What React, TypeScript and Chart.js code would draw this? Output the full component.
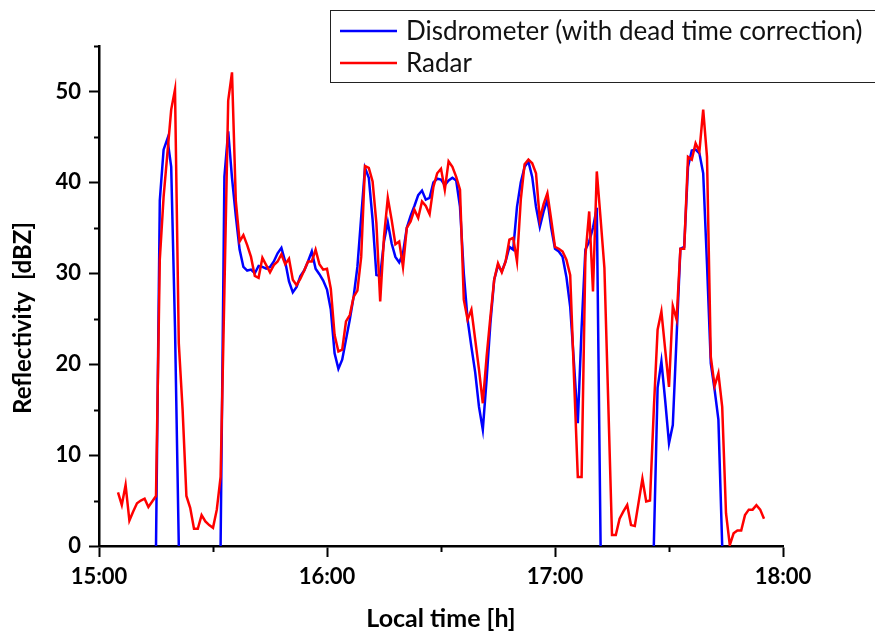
import React, { useEffect, useRef } from 'react';
import { Chart, registerables } from 'chart.js';

Chart.register(...registerables);

// Minutes after 15:00 of the first sample of each series (one sample per minute)
const RADAR_START_MIN = 5;
const DISDRO_START_MIN = 15;

// Radar reflectivity [dBZ], 15:05 .. 17:55
const radarDbz: number[] = [
  5.9, 4.5, 6.7, 2.8, 3.8, 4.7, 5.0, 5.2, 4.3, 4.9,
  5.5, 31.5, 38.4, 43.2, 48.0, 50.2, 22.3, 15.0, 5.5, 4.2,
  1.9, 1.9, 3.4, 2.7, 2.3, 2.0, 4.0, 7.6, 28.0, 49.0,
  52.1, 38.0, 33.5, 34.2, 33.1, 31.8, 29.7, 29.5, 31.7, 30.9,
  30.1, 30.9, 31.3, 32.1, 31.0, 31.6, 29.3, 28.7, 29.4, 30.3,
  31.3, 31.3, 32.6, 31.0, 30.4, 30.5, 28.3, 23.2, 21.4, 21.6,
  24.7, 25.4, 27.4, 28.1, 31.8, 41.8, 41.6, 40.1, 35.5, 26.9,
  34.0, 38.3, 35.9, 33.2, 33.5, 30.7, 35.0, 35.7, 37.0, 36.1,
  37.9, 37.4, 36.5, 39.5, 41.0, 41.5, 39.2, 42.3, 41.7, 40.6,
  39.2, 27.1, 24.9, 26.0, 22.7, 19.4, 15.7, 20.8, 25.2, 29.3,
  31.1, 30.1, 31.3, 33.7, 33.9, 31.3, 38.1, 42.0, 42.5, 42.1,
  41.0, 35.9, 37.6, 38.8, 35.9, 32.9, 32.7, 32.4, 31.5, 29.8,
  18.6, 7.6, 7.6, 31.9, 36.8, 28.0, 41.2, 36.0, 30.6, 16.0,
  1.2, 1.2, 3.0, 3.8, 4.5, 2.3, 2.2, 4.8, 7.4, 4.9,
  5.0, 15.0, 23.8, 25.8, 21.6, 17.5, 26.4, 24.9, 32.7, 32.7,
  42.8, 42.5, 44.3, 43.4, 48.0, 42.8, 20.8, 17.6, 19.0, 15.3,
  3.6, 0.1, 1.4, 1.7, 1.7, 3.4, 4.0, 4.0, 4.5, 4.0,
  3.0,
];

// Disdrometer reflectivity [dBZ], 15:15 .. 17:44 (null = no rain recorded)
const disdrometerDbz: (number | null)[] = [
  0, 38.0, 43.6, 44.8, 41.7, 24.0, 0, null, null, null,
  null, null, null, null, null, null, null, 0, 40.6, 45.6,
  40.5, 36.3, 32.6, 30.7, 30.3, 30.4, 30.0, 30.8, 30.7, 30.5,
  30.7, 31.3, 32.2, 32.8, 31.3, 29.1, 27.9, 28.5, 29.7, 30.3,
  31.3, 32.4, 30.5, 29.9, 29.2, 28.2, 26.0, 21.2, 19.5, 20.5,
  22.7, 24.9, 27.4, 30.7, 36.2, 41.6, 40.5, 35.9, 29.8, 29.7,
  33.5, 35.6, 33.3, 31.8, 31.2, 32.2, 35.0, 36.3, 37.4, 38.6,
  39.1, 38.1, 38.3, 40.0, 40.4, 40.3, 39.7, 40.2, 40.5, 40.2,
  37.3, 30.0, 24.9, 21.9, 19.1, 15.3, 12.8, 18.3, 24.5, 29.3,
  30.9, 30.2, 31.3, 32.9, 32.6, 37.3, 40.0, 41.7, 42.3, 40.6,
  37.3, 35.1, 36.8, 38.1, 35.0, 32.7, 32.4, 31.8, 29.6, 26.3,
  20.1, 13.5, 24.0, 32.6, 33.5, 35.0, 37.2, 0, null, null,
  null, null, null, null, null, null, null, null, null, null,
  null, 0, 17.4, 20.3, 16.0, 11.3, 13.3, 23.0, 32.7, 32.9,
  41.7, 43.5, 43.6, 43.2, 41.0, 31.0, 20.1, 17.2, 13.9, 0,
];

const hourTickLabels = ['15:00', '16:00', '17:00', '18:00'];
const legendLabels = ['Disdrometer (with dead time correction)', 'Radar'];
const seriesColors = ['#0000ff', '#ff0000'];
const yTitle = 'Reflectivity  [dBZ]';
const xTitle = 'Local time [h]';

const FONT = "Lato, 'Open Sans', 'DejaVu Sans', sans-serif";

const toPoints = (start: number, values: (number | null)[]) =>
  values.map((v, i) => ({ x: start + i, y: v }));

// Short minor ticks at 5 dBZ and half-hour steps, placed through the scales
const minorTicksPlugin = {
  id: 'minorTicks',
  afterDraw(chart: any) {
    const { ctx, scales, chartArea } = chart;
    const x = scales.x;
    const y = scales.y;
    ctx.save();
    ctx.strokeStyle = '#000';
    ctx.lineWidth = 2;
    for (let v = 5; v <= 55; v += 10) {
      const py = Math.round(y.getPixelForValue(v)) + 0.5;
      ctx.beginPath();
      ctx.moveTo(chartArea.left - 5, py);
      ctx.lineTo(chartArea.left, py);
      ctx.stroke();
    }
    for (let m = 30; m < 180; m += 60) {
      const px = Math.round(x.getPixelForValue(m)) + 0.5;
      ctx.beginPath();
      ctx.moveTo(px, chartArea.bottom);
      ctx.lineTo(px, chartArea.bottom + 6);
      ctx.stroke();
    }
    ctx.restore();
  },
};

// Rotated y-axis title, set a little below the middle of the axis
const yTitlePlugin = {
  id: 'yTitle',
  afterDraw(chart: any) {
    const { ctx } = chart;
    ctx.save();
    ctx.translate(23, 318);
    ctx.rotate(-Math.PI / 2);
    ctx.font = `bold 24px ${FONT}`;
    ctx.fillStyle = '#000';
    ctx.textAlign = 'center';
    ctx.textBaseline = 'middle';
    ctx.fillText(yTitle, 0, 0);
    ctx.restore();
  },
};

// Boxed legend in the upper right corner
const boxLegendPlugin = {
  id: 'boxLegend',
  afterDraw(chart: any) {
    const { ctx } = chart;
    ctx.save();
    ctx.fillStyle = '#fff';
    ctx.fillRect(330, 10, 560, 72);
    ctx.strokeStyle = '#222';
    ctx.lineWidth = 1;
    ctx.strokeRect(330.5, 10.5, 560, 72);
    ctx.font = `26px ${FONT}`;
    ctx.textBaseline = 'middle';
    ctx.textAlign = 'left';
    const rows = [31, 63];
    legendLabels.forEach((label, i) => {
      ctx.strokeStyle = seriesColors[i];
      ctx.lineWidth = 2.5;
      ctx.beginPath();
      ctx.moveTo(340, rows[i]);
      ctx.lineTo(397, rows[i]);
      ctx.stroke();
      ctx.fillStyle = '#111';
      ctx.fillText(label, 406, rows[i] + 1);
    });
    ctx.restore();
  },
};

export default function App() {
  const canvasRef = useRef<HTMLCanvasElement | null>(null);

  useEffect(() => {
    document.body.style.margin = '0';
    const canvas = canvasRef.current;
    if (!canvas) return;
    const chart = new Chart(canvas, {
      type: 'line',
      data: {
        datasets: [
          {
            label: legendLabels[0],
            data: toPoints(DISDRO_START_MIN, disdrometerDbz),
            borderColor: seriesColors[0],
            backgroundColor: seriesColors[0],
            borderWidth: 2.5,
            pointRadius: 0,
            tension: 0,
            spanGaps: false,
            order: 1,
          },
          {
            label: legendLabels[1],
            data: toPoints(RADAR_START_MIN, radarDbz),
            borderColor: seriesColors[1],
            backgroundColor: seriesColors[1],
            borderWidth: 2.5,
            pointRadius: 0,
            tension: 0,
            order: 0,
          },
        ],
      },
      options: {
        animation: false,
        responsive: false,
        maintainAspectRatio: false,
        layout: { padding: { top: 46, right: 92, left: 0, bottom: 0 } },
        plugins: {
          legend: { display: false },
          tooltip: { enabled: false },
        },
        scales: {
          x: {
            type: 'linear',
            min: 0,
            max: 180,
            afterFit: (s: any) => {
              s.height = 88;
            },
            border: { display: true, color: '#000', width: 2.5 },
            grid: {
              drawOnChartArea: false,
              drawTicks: true,
              tickLength: 11,
              tickWidth: 2,
              tickColor: '#000',
            },
            ticks: {
              stepSize: 60,
              autoSkip: false,
              maxRotation: 0,
              padding: 7,
              color: '#000',
              font: { family: FONT, size: 22, weight: 'bold' },
              callback: (v: any) => hourTickLabels[Math.round(Number(v) / 60)] ?? '',
            },
            title: {
              display: true,
              text: xTitle,
              color: '#000',
              font: { family: FONT, size: 25, weight: 'bold' },
              padding: { top: 0, bottom: 0 },
            },
          },
          y: {
            min: 0,
            max: 55,
            afterFit: (s: any) => {
              s.width = 99;
            },
            border: { display: true, color: '#000', width: 2.5 },
            grid: {
              drawOnChartArea: false,
              drawTicks: true,
              tickLength: 10,
              tickWidth: 2,
              tickColor: '#000',
            },
            ticks: {
              stepSize: 10,
              includeBounds: false,
              padding: 8,
              color: '#000',
              font: { family: FONT, size: 22, weight: 'bold' },
            },
          },
        },
      },
      plugins: [minorTicksPlugin, yTitlePlugin, boxLegendPlugin],
    });
    return () => chart.destroy();
  }, []);

  return (
    <div style={{ width: 875, height: 634, background: '#fff' }}>
      <canvas ref={canvasRef} width={875} height={634} style={{ display: 'block' }} />
    </div>
  );
}
